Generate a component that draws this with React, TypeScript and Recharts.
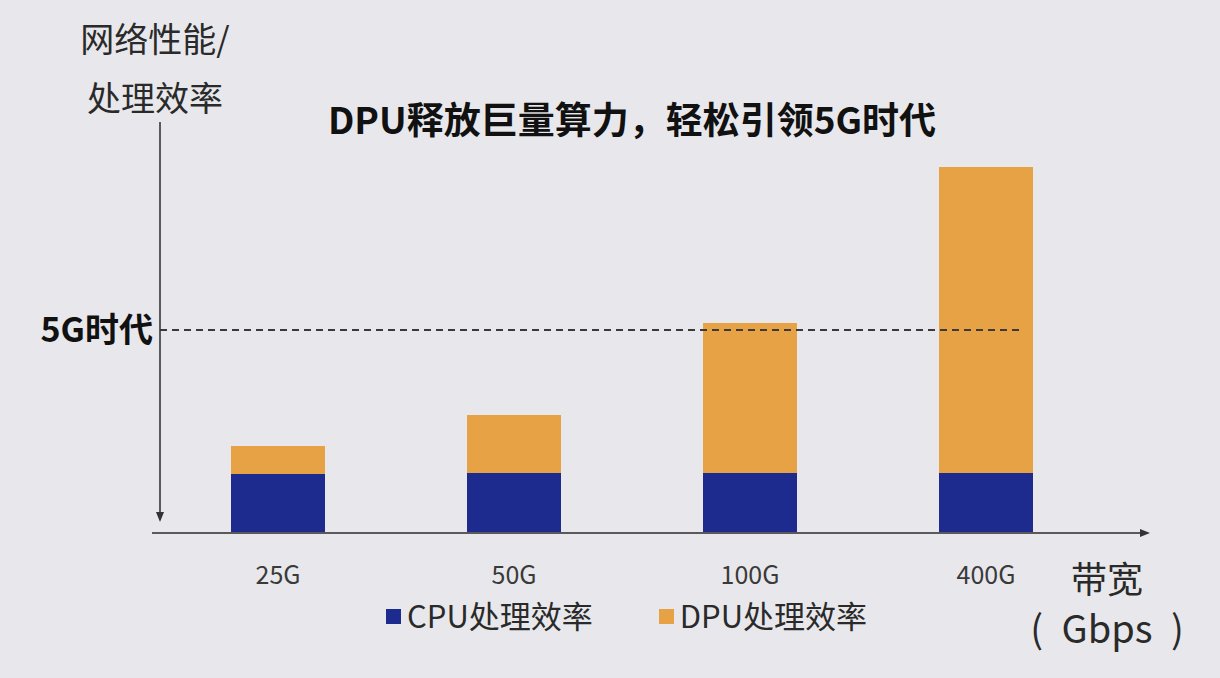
import React from 'react';
import { BarChart, Bar, XAxis, YAxis, ReferenceLine, ReferenceArea, Legend } from 'recharts';

// Bandwidth tiers on the horizontal axis
const categories = ['25G', '50G', '100G', '400G'];
// Processing efficiency carried by the CPU (bottom of each stack)
const cpuValues = [59, 60, 60, 60];
// Extra processing efficiency contributed by the DPU (top of each stack)
const dpuValues = [28, 58, 150, 306];
// Level marked as the 5G era threshold
const fiveGLevel = 203;
const yMax = 400;

const seriesNames = { cpu: 'CPU处理效率', dpu: 'DPU处理效率' };

const data = categories.map((name, i) => ({ name, cpu: cpuValues[i], dpu: dpuValues[i] }));

const FONT = '"Noto Sans CJK SC", "Noto Sans", sans-serif';
const NAVY = '#1d2b8f';
const ORANGE = '#e8a246';
const AXIS = '#5a5a5a';

// Share of the plot width covered by the dashed 5G guide
const guideSpan = 0.871;

const arrow = (x1: number, y1: number, x2: number, y2: number) => {
  const dx = x2 - x1;
  const dy = y2 - y1;
  const len = Math.sqrt(dx * dx + dy * dy) || 1;
  const ux = dx / len;
  const uy = dy / len;
  const head = 10;
  const half = 4;
  const bx = x2 - ux * head;
  const by = y2 - uy * head;
  const pts = `${x2},${y2} ${bx - uy * half},${by + ux * half} ${bx + uy * half},${by - ux * half}`;
  return (
    <g>
      <line x1={x1} y1={y1} x2={bx} y2={by} stroke={AXIS} strokeWidth={2} />
      <polygon points={pts} fill="#333" />
    </g>
  );
};

// Horizontal axis: a line along the zero level ending in an arrow to the right
const xAxisArrow = (props: any) => arrow(props.x1 - 8, props.y1, props.x2, props.y2);

// Vertical axis: drawn down the left edge of the area, arrowhead at the bottom
const yAxisArrow = (props: any) => {
  const { x, y, height } = props;
  return arrow(x, y, x, y + height);
};

// Dashed guide that stops short of the right edge of the plot
const dashedGuide = (props: any) => {
  const { x1, x2, y1 } = props;
  return (
    <line
      x1={x1}
      y1={y1}
      x2={x1 + (x2 - x1) * guideSpan}
      y2={y1}
      stroke="#3a3a3a"
      strokeWidth={2}
      strokeDasharray="7 5"
    />
  );
};

const renderLegend = (props: any) => {
  const { payload } = props;
  return (
    <div style={{ display: 'flex', alignItems: 'center', fontFamily: FONT, fontSize: 31, color: '#2a2a2a' }}>
      {(payload || []).map((entry: any, i: number) => (
        <div key={entry.value} style={{ display: 'flex', alignItems: 'center', marginRight: i === 0 ? 66 : 0 }}>
          <span style={{ display: 'inline-block', width: 15, height: 15, background: entry.color, marginRight: 6, marginTop: 4 }} />
          <span>{entry.value}</span>
        </div>
      ))}
    </div>
  );
};

export default function App() {
  return (
    <div style={{ position: 'absolute', left: 0, top: 0, width: 1220, height: 678, background: '#e8e8ec', overflow: 'hidden' }}>
      <div style={{ position: 'absolute', left: 55, top: 8, width: 200, textAlign: 'center', fontFamily: FONT, fontSize: 34, lineHeight: '59px', color: '#2a2a2a' }}>
        <div>网络性能/</div>
        <div>处理效率</div>
      </div>
      <div style={{ position: 'absolute', left: 0, top: 94, width: 1264, textAlign: 'center', fontFamily: FONT, fontSize: 37, fontWeight: 700, lineHeight: '48px', color: '#111' }}>
        DPU释放巨量算力，轻松引领5G时代
      </div>
      <div style={{ position: 'absolute', left: 1000, top: 552, width: 214, textAlign: 'center', fontFamily: FONT, fontSize: 36, lineHeight: '50px', color: '#2a2a2a' }}>
        <div>带宽</div>
        <div style={{ fontSize: 38, wordSpacing: 10 }}>( Gbps )</div>
      </div>
      <div style={{ position: 'absolute', left: 0, top: 0 }}>
        <BarChart
          width={1220}
          height={678}
          data={data}
          margin={{ top: 133, right: 70, bottom: 85, left: 160 }}
          barSize={94}
        >
          <XAxis
            dataKey="name"
            axisLine={false}
            tickLine={false}
            tickSize={0}
            tickMargin={33}
            height={60}
            padding={{ left: 0, right: 46 }}
            tick={{ fontFamily: FONT, fontSize: 25, fill: '#3a3a3a' }}
            interval={0}
          />
          <YAxis type="number" domain={[0, yMax]} hide />
          <Bar dataKey="cpu" name={seriesNames.cpu} stackId="s" fill={NAVY} isAnimationActive={false} />
          <Bar dataKey="dpu" name={seriesNames.dpu} stackId="s" fill={ORANGE} isAnimationActive={false} />
          <ReferenceLine
            y={fiveGLevel}
            ifOverflow="visible"
            shape={dashedGuide}
            label={{ value: '5G时代', position: 'left', offset: 7, fontFamily: FONT, fontSize: 34, fontWeight: 700, fill: '#111' }}
          />
          <ReferenceArea y1={11} y2={411} ifOverflow="visible" shape={yAxisArrow} />
          <ReferenceLine y={0} ifOverflow="visible" shape={xAxisArrow} />
          <Legend
            layout="horizontal"
            verticalAlign="middle"
            align="center"
            content={renderLegend}
            wrapperStyle={{ position: 'absolute', left: 386, top: 592, width: 540 }}
          />
        </BarChart>
      </div>
    </div>
  );
}
